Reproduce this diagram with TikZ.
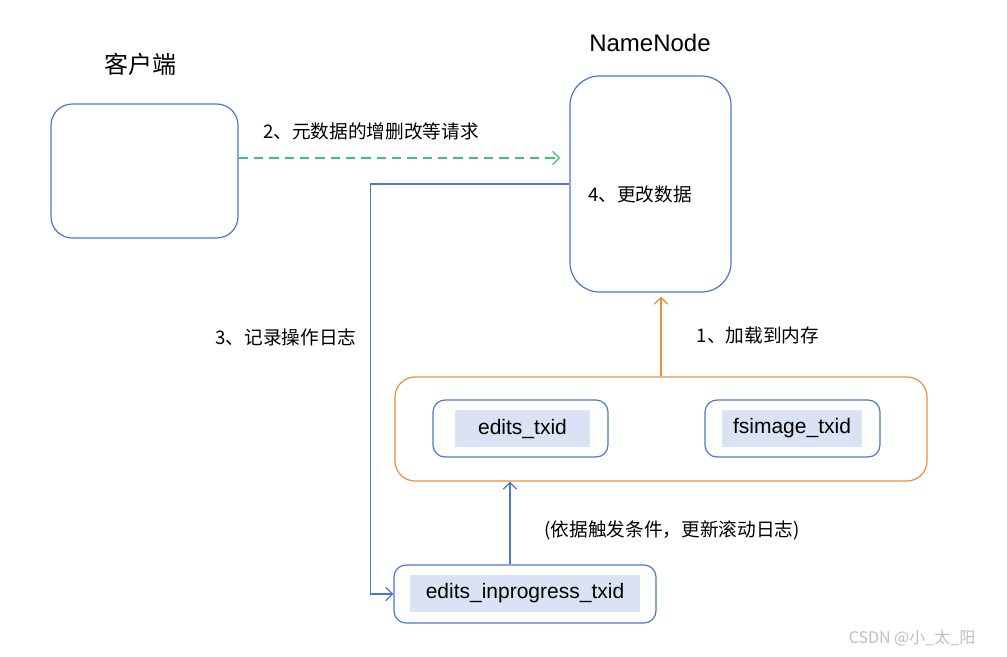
\documentclass[tikz,border=0pt]{standalone}
\usepackage{fontspec}
\setmainfont{Liberation Sans}
\newfontfamily\cjk{Noto Sans CJK SC}
\usetikzlibrary{arrows.meta}
\newdimen\pxu
\pxu=0.75pt
\begin{document}
\begin{tikzpicture}[x=0.75pt, y=-0.75pt,
        >={Straight Barb[length=5pt,width=10pt]},
        box/.style={draw=nnBlue, line width=0.9pt, inner sep=0pt},
        lbl/.style={fill=nnLabelFill, inner sep=0pt, font=\fontsize{15.75}{18}\selectfont},
        txt/.style={inner sep=0pt, font=\cjk\fontsize{14}{16}\selectfont},
        ttl/.style={inner sep=0pt, font=\fontsize{18}{21}\selectfont}]
        % Farben
        \definecolor{nnBlue}{HTML}{4A78CF}
        \definecolor{nnOrange}{HTML}{F08A3C}
        \definecolor{nnGreen}{HTML}{40C07A}
        \definecolor{nnLabelFill}{HTML}{DAE3F3}
        \definecolor{nnMark}{HTML}{BEBEBE}

        \useasboundingbox (0,0) rectangle (1007,657);

        % Kaesten
        \node[box, rounded corners=16pt, minimum width=187\pxu, minimum height=134\pxu] (client) at (144.5,171) {};
        \node[box, rounded corners=22pt, minimum width=161\pxu, minimum height=216\pxu] (nn) at (650.5,184) {};
        \node[box, draw=nnOrange, rounded corners=15pt, minimum width=532\pxu, minimum height=104\pxu] (store) at (661,429) {};
        \node[box, rounded corners=9pt, minimum width=175\pxu, minimum height=57\pxu] (editsBox) at (520.5,428.5) {};
        \node[box, rounded corners=9pt, minimum width=175\pxu, minimum height=57\pxu] (fsBox) at (792.5,428.5) {};
        \node[box, rounded corners=9pt, minimum width=262\pxu, minimum height=58\pxu] (inprog) at (525,594) {};

        % Beschriftungen in den Kaesten
        \node[lbl, minimum width=135\pxu, minimum height=37\pxu] (editsLbl) at (522.5,428.5) {edits\_txid};
        \node[lbl, minimum width=140\pxu, minimum height=37\pxu] (fsLbl) at (792,428.5) {fsimage\_txid};
        \node[lbl, minimum width=230\pxu, minimum height=37\pxu] (inprogLbl) at (525,593.5) {edits\_inprogress\_txid};

        % Titel
        \node[ttl, font=\cjk\fontsize{18}{21}\selectfont] (clientTtl) at (140,64) {客户端};
        \node[ttl] (nnTtl) at (650,43) {NameNode};
        \node[txt, anchor=west] (change) at (588,194) {4、更改数据};

        % Verbindungen
        \coordinate (reqEnd) at (560,158);
        \draw[->, nnGreen, line width=0.9pt, dash pattern=on 7pt off 4.5pt] (client.east |- reqEnd) -- (reqEnd);
        \node[txt] (reqTxt) at (371,131) {2、元数据的增删改等请求};

        \draw[->, nnBlue, line width=0.9pt] (nn.west) -- ++(-199,0) |- (inprog.west);
        \node[txt] (logTxt) at (286,337) {3、记录操作日志};

        \coordinate (rollX) at (510,0);
        \draw[->, nnBlue, line width=0.9pt] (inprog.north -| rollX) -- (store.south -| rollX);
        \node[txt] (rollTxt) at (672,530) {(依据触发条件，更新滚动日志)};

        \draw[->, nnOrange, line width=0.9pt, shorten >=3pt] (store.north) -- (store.north |- nn.south);
        \node[txt] (loadTxt) at (758,335) {1、加载到内存};

        % Wasserzeichen
        \node[inner sep=0pt, text=nnMark, font=\cjk\fontsize{12}{14}\selectfont] (mark) at (912,638) {CSDN @小\_太\_阳};
\end{tikzpicture}
\end{document}
